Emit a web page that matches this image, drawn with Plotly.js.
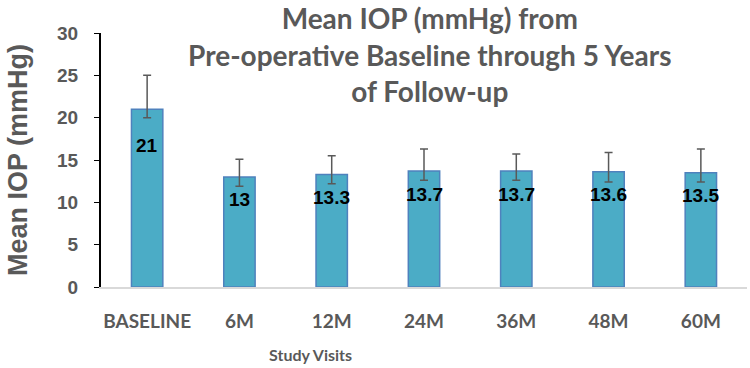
<!DOCTYPE html>
<html>
<head>
<meta charset="utf-8">
<script src="https://cdn.plot.ly/plotly-3.0.1.min.js"></script>
<style>
  html, body { margin: 0; padding: 0; background: #ffffff; }
  #chart { width: 750px; height: 368px; }
</style>
</head>
<body>
<div id="chart"></div>
<script>
// Study visits and mean IOP values (mmHg)
const visits = ['BASELINE', '6M', '12M', '24M', '36M', '48M', '60M'];
const meanIOP = [21, 13, 13.3, 13.7, 13.7, 13.6, 13.5];
const errPlus = [4, 2.1, 2.2, 2.6, 2.0, 2.3, 2.8];
const errMinus = [1, 1.1, 1.1, 1.1, 1.1, 1.2, 1.1];
const yTicks = [0, 5, 10, 15, 20, 25, 30];

const grey = '#595959';

const barTrace = {
    type: 'bar',
    x: visits,
    y: meanIOP,
    width: 0.34,
    marker: {
        color: '#4bacc6',
        line: { color: '#4f81bd', width: 1.5 }
    },
    error_y: {
        type: 'data',
        symmetric: false,
        array: errPlus,
        arrayminus: errMinus,
        color: grey,
        thickness: 1.5,
        width: 4
    },
    hoverinfo: 'x+y'
};

// value labels sit just inside the top of each bar
const labels = visits.map((v, i) => ({
    x: v,
    y: meanIOP[i],
    text: String(meanIOP[i]),
    showarrow: false,
    yanchor: 'middle',
    yshift: i === 0 ? -36 : -23,
    font: { family: 'Liberation Sans, Arial, sans-serif', size: 19, color: '#000000', weight: 'bold' }
}));

// x-axis title sits left of centre in the original, so it is an annotation
labels.push({
    text: 'Study Visits',
    xref: 'paper', yref: 'paper',
    x: 0.325, y: -0.264,
    xanchor: 'center', yanchor: 'middle',
    showarrow: false,
    font: { family: 'Lato, Open Sans, sans-serif', size: 16, color: grey, weight: 'bold' }
});

const layout = {
    width: 750,
    height: 368,
    margin: { l: 101, r: 3, t: 33, b: 81 },
    paper_bgcolor: '#ffffff',
    plot_bgcolor: '#ffffff',
    showlegend: false,
    title: {
        text: 'Mean IOP (mmHg) from<br>Pre-operative Baseline through 5 Years<br>of Follow-up',
        font: { family: 'Lato, Open Sans, sans-serif', size: 28, color: grey, weight: 'bold' },
        x: 0.573,
        xanchor: 'center',
        y: 0.92,
        yanchor: 'top'
    },
    xaxis: {
        type: 'category',
        showline: true,
        linecolor: '#d9d9d9',
        linewidth: 1.5,
        ticks: '',
        showgrid: false,
        zeroline: false,
        ticklabelstandoff: 17,
        tickfont: { family: 'Lato, Open Sans, sans-serif', size: 19, color: grey, weight: 'bold' }
    },
    yaxis: {
        range: [0, 30],
        tickvals: yTicks,
        showline: true,
        linecolor: '#000000',
        linewidth: 2,
        ticks: 'outside',
        ticklen: 5,
        tickcolor: '#000000',
        showgrid: false,
        zeroline: false,
        ticklabelstandoff: 12,
        tickfont: { family: 'Liberation Sans, Arial, sans-serif', size: 19, color: grey, weight: 'bold' },
        title: {
            text: 'Mean IOP (mmHg)',
            standoff: 22,
            font: { family: 'Liberation Sans, Arial, sans-serif', size: 27, color: grey, weight: 'bold' }
        }
    },
    annotations: labels
};

Plotly.newPlot('chart', [barTrace], layout, { displayModeBar: false, staticPlot: true });
</script>
</body>
</html>
